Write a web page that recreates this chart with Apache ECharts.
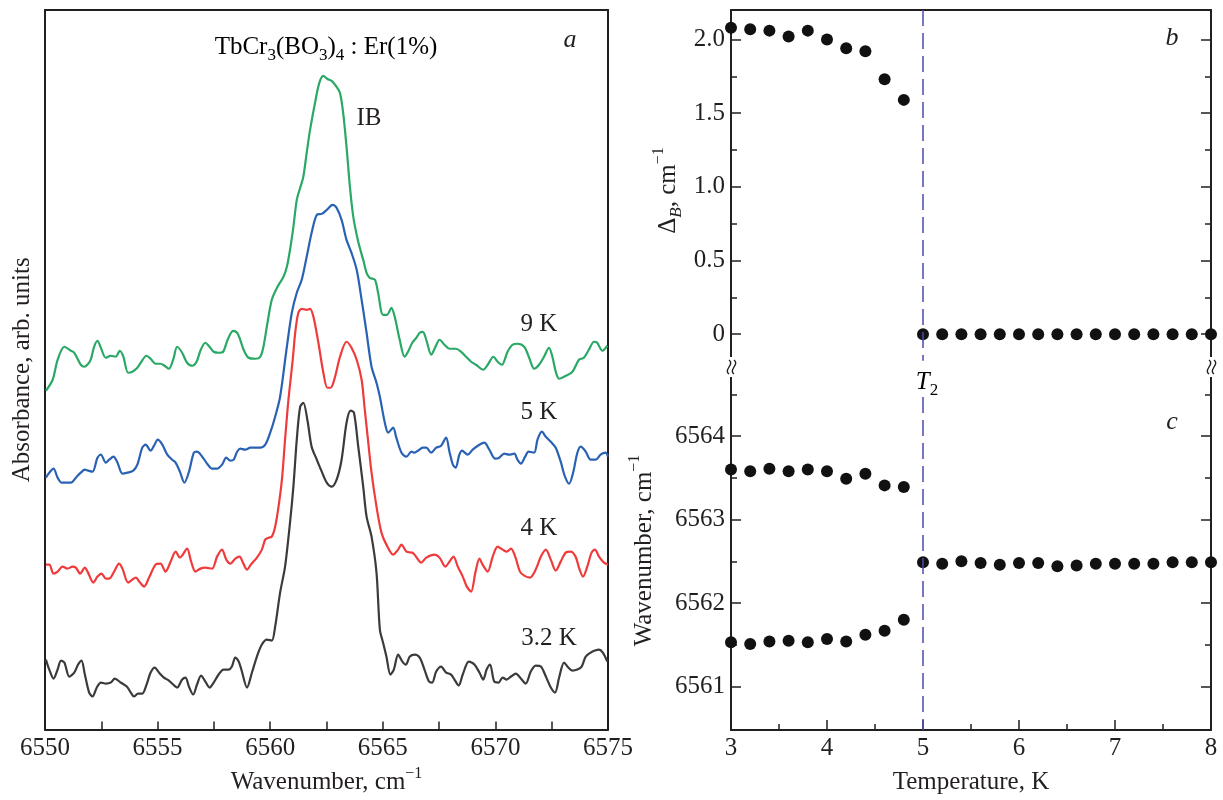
<!DOCTYPE html>
<html><head><meta charset="utf-8">
<script src="https://cdn.jsdelivr.net/npm/echarts@6/dist/echarts.min.js"></script>
<style>html,body{margin:0;padding:0;background:#fff}#c{width:1223px;height:800px}</style>
</head><body><div id="c"></div>
<script>
// ---------- Panel a: absorption spectra (wavenumber, arb. units) ----------
const wn9K = [6550.04,6550.34,6550.56,6550.86,6551.15,6551.30,6551.59,6551.74,6552.01,6552.18,6552.33,6552.48,6552.70,6552.92,6553.14,6553.32,6553.48,6553.69,6553.88,6554.10,6554.25,6554.51,6554.69,6554.91,6555.13,6555.31,6555.50,6555.69,6555.87,6556.09,6556.31,6556.54,6556.73,6556.90,6557.12,6557.27,6557.49,6557.71,6557.91,6558.11,6558.35,6558.53,6558.67,6558.82,6559.04,6559.34,6559.56,6559.70,6559.85,6560.07,6560.30,6560.59,6560.74,6560.88,6561.03,6561.18,6561.33,6561.47,6561.62,6561.77,6561.99,6562.18,6562.36,6562.54,6562.73,6562.95,6563.10,6563.24,6563.39,6563.54,6563.69,6563.91,6564.13,6564.28,6564.42,6564.65,6564.79,6565.01,6565.19,6565.38,6565.53,6565.75,6565.97,6566.12,6566.31,6566.49,6566.64,6566.78,6566.93,6567.15,6567.34,6567.52,6567.74,6567.96,6568.25,6568.48,6568.70,6568.92,6569.14,6569.46,6569.66,6569.91,6570.10,6570.29,6570.54,6570.76,6570.98,6571.28,6571.50,6571.72,6571.94,6572.16,6572.38,6572.53,6572.68,6572.83,6573.05,6573.42,6573.71,6573.93,6574.15,6574.38,6574.52,6574.75,6574.97];
const abs9K = [3.39,3.50,3.70,3.83,3.79,3.77,3.65,3.63,3.69,3.83,3.89,3.82,3.72,3.74,3.73,3.79,3.73,3.57,3.58,3.62,3.67,3.74,3.71,3.66,3.66,3.64,3.61,3.70,3.83,3.77,3.67,3.64,3.68,3.79,3.87,3.84,3.78,3.77,3.78,3.90,3.99,3.97,3.90,3.80,3.72,3.71,3.73,3.83,4.03,4.30,4.42,4.53,4.63,4.80,5.03,5.30,5.42,5.53,5.77,6.00,6.27,6.47,6.54,6.51,6.49,6.43,6.37,6.17,5.83,5.43,5.13,4.88,4.70,4.57,4.52,4.50,4.37,4.15,4.15,4.22,4.13,3.90,3.73,3.78,3.87,3.92,3.97,3.98,3.90,3.75,3.83,3.90,3.85,3.81,3.81,3.78,3.73,3.68,3.65,3.60,3.65,3.73,3.68,3.65,3.78,3.85,3.86,3.83,3.72,3.61,3.65,3.73,3.82,3.73,3.58,3.51,3.53,3.58,3.70,3.72,3.80,3.88,3.87,3.79,3.84];

const wn5K = [6550.04,6550.19,6550.38,6550.56,6550.74,6550.93,6551.15,6551.37,6551.59,6551.77,6551.92,6552.11,6552.33,6552.48,6552.70,6552.85,6553.04,6553.22,6553.44,6553.66,6553.92,6554.10,6554.32,6554.47,6554.69,6554.84,6555.01,6555.21,6555.43,6555.65,6555.80,6555.99,6556.19,6556.38,6556.61,6556.75,6556.98,6557.20,6557.42,6557.64,6557.86,6558.05,6558.23,6558.38,6558.53,6558.67,6558.89,6559.12,6559.34,6559.56,6559.78,6560.00,6560.22,6560.44,6560.74,6560.96,6561.18,6561.40,6561.62,6561.84,6562.07,6562.29,6562.51,6562.77,6562.95,6563.17,6563.39,6563.61,6563.84,6564.06,6564.28,6564.50,6564.72,6564.87,6565.09,6565.24,6565.46,6565.60,6565.83,6566.05,6566.27,6566.41,6566.56,6566.78,6566.93,6567.15,6567.37,6567.59,6567.81,6567.96,6568.11,6568.23,6568.40,6568.52,6568.77,6568.99,6569.29,6569.51,6569.73,6569.99,6570.17,6570.39,6570.61,6570.84,6570.98,6571.13,6571.32,6571.47,6571.72,6571.87,6572.06,6572.24,6572.50,6572.68,6572.90,6573.09,6573.27,6573.45,6573.64,6573.79,6574.01,6574.23,6574.45,6574.67,6574.89,6575.00];
const abs5K = [2.52,2.57,2.61,2.52,2.47,2.47,2.47,2.52,2.57,2.60,2.59,2.58,2.72,2.75,2.67,2.70,2.73,2.67,2.56,2.57,2.59,2.65,2.82,2.85,2.79,2.84,2.90,2.85,2.75,2.70,2.67,2.58,2.47,2.57,2.77,2.78,2.73,2.66,2.61,2.61,2.65,2.72,2.69,2.70,2.78,2.81,2.80,2.82,2.82,2.82,2.85,2.97,3.13,3.33,3.83,4.17,4.37,4.50,4.73,4.97,5.15,5.16,5.20,5.25,5.22,5.10,4.90,4.77,4.60,4.30,3.97,3.63,3.47,3.33,3.07,2.97,3.02,2.92,2.77,2.73,2.78,2.77,2.79,2.82,2.82,2.77,2.82,2.84,2.92,2.78,2.65,2.62,2.75,2.79,2.75,2.80,2.85,2.87,2.80,2.71,2.72,2.76,2.75,2.76,2.70,2.66,2.73,2.78,2.77,2.90,2.98,2.93,2.87,2.82,2.68,2.53,2.46,2.57,2.77,2.83,2.78,2.70,2.70,2.75,2.77,2.73];

const wn4K = [6550.04,6550.19,6550.38,6550.56,6550.78,6551.00,6551.22,6551.37,6551.56,6551.77,6551.89,6552.15,6552.33,6552.51,6552.70,6552.85,6553.07,6553.29,6553.44,6553.69,6553.88,6554.03,6554.22,6554.40,6554.62,6554.91,6555.13,6555.35,6555.58,6555.80,6555.99,6556.09,6556.31,6556.49,6556.68,6556.90,6557.12,6557.42,6557.64,6557.86,6558.05,6558.23,6558.45,6558.64,6558.79,6558.97,6559.14,6559.41,6559.63,6559.78,6559.93,6560.07,6560.22,6560.37,6560.52,6560.66,6560.81,6561.00,6561.11,6561.25,6561.40,6561.62,6561.77,6561.92,6562.14,6562.36,6562.54,6562.68,6562.88,6563.10,6563.39,6563.61,6563.84,6564.06,6564.20,6564.35,6564.50,6564.72,6564.94,6565.16,6565.46,6565.68,6565.83,6566.05,6566.31,6566.41,6566.71,6566.93,6567.30,6567.52,6567.78,6567.96,6568.14,6568.33,6568.55,6568.73,6568.92,6569.11,6569.29,6569.43,6569.66,6569.88,6570.10,6570.32,6570.50,6570.69,6570.88,6571.09,6571.28,6571.53,6571.79,6572.02,6572.24,6572.46,6572.68,6572.90,6573.12,6573.34,6573.56,6573.71,6573.89,6574.08,6574.27,6574.42,6574.60,6574.82,6575.00];
const abs4K = [1.65,1.65,1.56,1.58,1.63,1.61,1.63,1.62,1.56,1.62,1.58,1.47,1.53,1.56,1.51,1.51,1.58,1.66,1.61,1.47,1.50,1.52,1.47,1.43,1.52,1.65,1.66,1.58,1.68,1.78,1.72,1.74,1.81,1.68,1.58,1.61,1.62,1.61,1.73,1.80,1.70,1.66,1.71,1.73,1.67,1.60,1.65,1.72,1.80,1.90,1.92,1.93,2.03,2.23,2.50,2.90,3.30,3.70,3.97,4.17,4.21,4.20,4.21,4.13,3.87,3.57,3.42,3.42,3.53,3.73,3.88,3.82,3.70,3.50,3.20,2.88,2.57,2.23,1.97,1.85,1.75,1.80,1.85,1.78,1.77,1.75,1.67,1.72,1.75,1.72,1.63,1.68,1.73,1.63,1.53,1.43,1.38,1.57,1.71,1.65,1.58,1.73,1.83,1.80,1.78,1.81,1.73,1.58,1.54,1.52,1.60,1.73,1.80,1.70,1.59,1.68,1.77,1.78,1.73,1.62,1.53,1.63,1.77,1.80,1.73,1.67,1.65];

const wn3K = [6550.04,6550.19,6550.38,6550.56,6550.71,6550.86,6551.08,6551.30,6551.47,6551.62,6551.77,6551.96,6552.11,6552.30,6552.48,6552.70,6552.92,6553.10,6553.36,6553.63,6553.81,6553.95,6554.13,6554.32,6554.51,6554.69,6554.87,6555.06,6555.28,6555.50,6555.69,6555.87,6556.09,6556.24,6556.39,6556.58,6556.75,6556.93,6557.12,6557.31,6557.49,6557.71,6557.93,6558.16,6558.30,6558.45,6558.60,6558.72,6558.97,6559.19,6559.41,6559.63,6559.85,6560.07,6560.22,6560.44,6560.66,6560.88,6561.03,6561.18,6561.33,6561.47,6561.65,6561.84,6562.07,6562.29,6562.51,6562.73,6562.95,6563.17,6563.39,6563.57,6563.72,6563.91,6564.13,6564.28,6564.50,6564.72,6564.87,6565.01,6565.16,6565.34,6565.49,6565.68,6565.87,6566.02,6566.20,6566.42,6566.64,6566.85,6567.05,6567.19,6567.37,6567.59,6567.81,6568.03,6568.18,6568.37,6568.55,6568.82,6569.07,6569.29,6569.46,6569.61,6569.76,6569.95,6570.14,6570.32,6570.50,6570.69,6570.91,6571.13,6571.35,6571.57,6571.79,6572.02,6572.24,6572.46,6572.65,6572.83,6573.05,6573.24,6573.42,6573.64,6573.83,6574.01,6574.23,6574.42,6574.60,6574.77,6574.97];
const abs3K = [0.70,0.60,0.51,0.60,0.69,0.67,0.53,0.57,0.65,0.69,0.55,0.37,0.33,0.42,0.47,0.46,0.47,0.51,0.47,0.43,0.37,0.33,0.36,0.36,0.45,0.57,0.62,0.57,0.52,0.49,0.45,0.42,0.50,0.52,0.43,0.35,0.45,0.54,0.48,0.42,0.47,0.55,0.60,0.60,0.63,0.72,0.68,0.60,0.42,0.57,0.73,0.85,0.90,0.89,1.03,1.37,1.63,2.07,2.43,2.90,3.23,3.27,3.10,2.83,2.70,2.58,2.47,2.43,2.50,2.70,3.07,3.19,3.17,2.83,2.43,2.13,1.93,1.57,1.00,0.87,0.73,0.55,0.60,0.75,0.68,0.65,0.73,0.75,0.72,0.60,0.48,0.47,0.58,0.63,0.57,0.55,0.50,0.44,0.55,0.68,0.65,0.57,0.50,0.60,0.65,0.48,0.47,0.52,0.50,0.53,0.56,0.51,0.46,0.58,0.64,0.63,0.53,0.42,0.37,0.52,0.67,0.62,0.59,0.60,0.63,0.73,0.77,0.79,0.80,0.77,0.68];

const curveNames = ['9 K', '5 K', '4 K', '3.2 K'];
const wnTicksA = [6550, 6555, 6560, 6565, 6570, 6575];

// ---------- Panel b: splitting Delta_B vs temperature ----------
const tempB = [3.0,3.2,3.4,3.6,3.8,4.0,4.2,4.4,4.6,4.8,5.0,5.2,5.4,5.6,5.8,6.0,6.2,6.4,6.6,6.8,7.0,7.2,7.4,7.6,7.8,8.0];
const deltaB = [2.08,2.07,2.06,2.02,2.06,2.00,1.94,1.92,1.73,1.59,0,0,0,0,0,0,0,0,0,0,0,0,0,0,0,0];
const bTicks = [0, 0.5, 1.0, 1.5, 2.0];
const bMinorTicks = [0.25, 0.75, 1.25, 1.75];

// ---------- Panel c: line positions vs temperature ----------
const tempSplit = [3.0,3.2,3.4,3.6,3.8,4.0,4.2,4.4,4.6,4.8];
const wnUpper = [6563.60,6563.58,6563.61,6563.58,6563.60,6563.58,6563.49,6563.55,6563.41,6563.39];
const wnLower = [6561.53,6561.51,6561.54,6561.55,6561.53,6561.57,6561.54,6561.62,6561.67,6561.80];
const tempMerged = [5.0,5.2,5.4,5.6,5.8,6.0,6.2,6.4,6.6,6.8,7.0,7.2,7.4,7.6,7.8,8.0];
const wnMerged = [6562.49,6562.47,6562.50,6562.48,6562.46,6562.48,6562.48,6562.44,6562.45,6562.47,6562.47,6562.47,6562.47,6562.49,6562.49,6562.49];
const cTicks = [6561, 6562, 6563, 6564];
const cMinorTicks = [6561.5, 6562.5, 6563.5, 6564.5];
const tempTicks = [3, 4, 5, 6, 7, 8];

const T2 = 5;
const T2LineB = [2.2, -0.18];
const T2LineC = [6564.47, 6560.48];

// ---------- styling ----------
const FONT = 'Liberation Serif';
const INK = '#231f20';
const FS = 25;
const colors = ['#2aa866', '#2a62b3', '#ef3b3b', '#3b3b3b'];
const zip = (xs, ys) => xs.map((x, i) => [x, ys[i]]);
const lineOnly = { show: true, onZero: false, lineStyle: { color: INK, width: 2 } };
const noLine = { show: false };
const labelStyle = { fontFamily: FONT, fontSize: FS, color: INK };
const rich = {
  n: { fontFamily: FONT, fontSize: FS, color: INK, lineHeight: 34 },
  i: { fontFamily: FONT, fontSize: FS, color: INK, lineHeight: 34, fontStyle: 'italic' },
  sub: { fontFamily: FONT, fontSize: 17, color: INK, lineHeight: 22, verticalAlign: 'bottom' },
  subi: { fontFamily: FONT, fontSize: 17, color: INK, lineHeight: 22, verticalAlign: 'bottom', fontStyle: 'italic' },
  sup: { fontFamily: FONT, fontSize: 16, color: INK, lineHeight: 18, verticalAlign: 'top' }
};
const fmt = v => (v === 0 ? '0' : (v > 100 ? String(v) : v.toFixed(1)));

function plainAxis(gridIndex, position, min, max) {
  return { type: 'value', gridIndex, position, min, max, axisLine: lineOnly,
    axisTick: { show: false }, axisLabel: { show: false }, splitLine: { show: false } };
}
function customTickAxis(gridIndex, position, min, max, ticks, len, showLine, showLabel, extra) {
  const ax = { type: 'value', gridIndex, position, min, max,
    axisLine: showLine ? lineOnly : noLine,
    axisTick: { show: true, inside: true, length: len, customValues: ticks, lineStyle: { color: INK, width: 1.5 } },
    axisLabel: showLabel ? Object.assign({ show: true, customValues: ticks, margin: 6, formatter: fmt }, labelStyle) : { show: false },
    splitLine: { show: false } };
  return Object.assign(ax, extra || {});
}

const chart = echarts.init(document.getElementById('c'), null, { renderer: 'canvas', width: 1223, height: 800 });

const spectra = [[wn9K, abs9K], [wn5K, abs5K], [wn4K, abs4K], [wn3K, abs3K]].map((c, k) => ({
  type: 'line', name: curveNames[k], xAxisIndex: 0, yAxisIndex: 0, data: zip(c[0], c[1]),
  showSymbol: false, smooth: 0.3, lineStyle: { color: colors[k], width: 2.2 }, silent: true, z: 3 + k
}));

const dash = { color: '#4b4bab', width: 1.5, type: [16, 7] };
const dotStyle = { color: '#111', opacity: 1 };

const option = {
  animation: false,
  backgroundColor: '#fff',
  grid: [
    { left: 45, top: 10, width: 563, height: 720 },
    { left: 731, top: 10, width: 480, height: 361 },
    { left: 731, top: 371, width: 480, height: 359 }
  ],
  xAxis: [
    { type: 'value', gridIndex: 0, position: 'bottom', min: 6550, max: 6575, interval: 5,
      axisLine: lineOnly,
      axisTick: { show: true, inside: true, length: 8, lineStyle: { color: INK, width: 1.5 } },
      minorTick: { show: true, splitNumber: 2, length: 8, lineStyle: { color: INK, width: 1.5 } },
      axisLabel: Object.assign({ margin: 6, customValues: wnTicksA, formatter: v => String(v) }, labelStyle),
      splitLine: { show: false },
      name: '{n|Wavenumber, cm}{sup|−1}', nameLocation: 'middle', nameGap: 36,
      nameTextStyle: { rich } },
    plainAxis(0, 'top', 6550, 6575),
    plainAxis(1, 'top', 3, 8),
    { type: 'value', gridIndex: 2, position: 'bottom', min: 3, max: 8, interval: 1,
      axisLine: lineOnly,
      axisTick: { show: true, inside: true, length: 10, lineStyle: { color: INK, width: 1.5 } },
      minorTick: { show: true, splitNumber: 2, length: 6, lineStyle: { color: INK, width: 1.5 } },
      axisLabel: Object.assign({ margin: 6, customValues: tempTicks, formatter: v => String(v) }, labelStyle),
      splitLine: { show: false },
      name: 'Temperature, K', nameLocation: 'middle', nameGap: 40,
      nameTextStyle: labelStyle }
  ],
  yAxis: [
    Object.assign(plainAxis(0, 'left', 0, 7.2), { name: 'Absorbance, arb. units', nameLocation: 'middle',
      nameRotate: 90, nameGap: 10, nameTextStyle: labelStyle }),
    plainAxis(0, 'right', 0, 7.2),
    customTickAxis(1, 'left', -0.25, 2.2, bTicks, 10, true, true, {
      name: '{n|Δ}{subi|B}{n|, cm}{sup|−1}', nameLocation: 'middle', nameRotate: 90, nameGap: 46,
      nameTextStyle: { rich } }),
    customTickAxis(1, 'left', -0.25, 2.2, bMinorTicks, 6, false, false),
    customTickAxis(1, 'right', -0.25, 2.2, bTicks, 10, true, false),
    customTickAxis(1, 'right', -0.25, 2.2, bMinorTicks, 6, false, false),
    customTickAxis(2, 'left', 6560.48, 6564.78, cTicks, 10, true, true, {
      name: '{n|Wavenumber, cm}{sup|−1}', nameLocation: 'middle', nameRotate: 90, nameGap: 70,
      nameTextStyle: { rich } }),
    customTickAxis(2, 'left', 6560.48, 6564.78, cMinorTicks, 6, false, false),
    customTickAxis(2, 'right', 6560.48, 6564.78, cTicks, 10, true, false),
    customTickAxis(2, 'right', 6560.48, 6564.78, cMinorTicks, 6, false, false)
  ],
  series: spectra.concat([
    { type: 'scatter', name: 'ΔB', xAxisIndex: 2, yAxisIndex: 2, data: zip(tempB, deltaB),
      symbolSize: 12, itemStyle: dotStyle, clip: true, silent: true,
      markLine: { silent: true, symbol: ['none', 'none'], label: { show: false }, lineStyle: dash,
        data: [[{ coord: [T2, T2LineB[0]] }, { coord: [T2, T2LineB[1]] }]] } },
    { type: 'scatter', name: 'upper', xAxisIndex: 3, yAxisIndex: 6, data: zip(tempSplit, wnUpper),
      symbolSize: 12, itemStyle: dotStyle, clip: true, silent: true,
      markLine: { silent: true, symbol: ['none', 'none'], label: { show: false }, lineStyle: dash,
        data: [[{ coord: [T2, T2LineC[0]] }, { coord: [T2, T2LineC[1]] }]] } },
    { type: 'scatter', name: 'lower', xAxisIndex: 3, yAxisIndex: 6, data: zip(tempSplit, wnLower),
      symbolSize: 12, itemStyle: dotStyle, clip: true, silent: true },
    { type: 'scatter', name: 'merged', xAxisIndex: 3, yAxisIndex: 6, data: zip(tempMerged, wnMerged),
      symbolSize: 12, itemStyle: dotStyle, clip: true, silent: true }
  ]),
  graphic: [
    // axis break cut-outs
    { type: 'rect', shape: { x: 724, y: 357, width: 14, height: 20 }, style: { fill: '#fff' }, z: 100 },
    { type: 'rect', shape: { x: 1204, y: 357, width: 14, height: 20 }, style: { fill: '#fff' }, z: 100 },
    { type: 'bezierCurve', shape: { x1: 729, y1: 360, x2: 729, y2: 374, cpx1: 735, cpy1: 364, cpx2: 723, cpy2: 370 }, style: { stroke: INK, lineWidth: 1.4, fill: null }, z: 101 },
    { type: 'bezierCurve', shape: { x1: 734, y1: 360, x2: 734, y2: 374, cpx1: 740, cpy1: 364, cpx2: 728, cpy2: 370 }, style: { stroke: INK, lineWidth: 1.4, fill: null }, z: 101 },
    { type: 'bezierCurve', shape: { x1: 1209, y1: 360, x2: 1209, y2: 374, cpx1: 1215, cpy1: 364, cpx2: 1203, cpy2: 370 }, style: { stroke: INK, lineWidth: 1.4, fill: null }, z: 101 },
    { type: 'bezierCurve', shape: { x1: 1214, y1: 360, x2: 1214, y2: 374, cpx1: 1220, cpy1: 364, cpx2: 1208, cpy2: 370 }, style: { stroke: INK, lineWidth: 1.4, fill: null }, z: 101 },
    // annotations
    { type: 'text', x: 326, y: 47, style: { text: '{n|TbCr}{sub|3}{n|(BO}{sub|3}{n|)}{sub|4}{n| : Er(1%)}', rich, align: 'center', verticalAlign: 'middle' }, z: 100 },
    { type: 'text', x: 570, y: 40, style: { text: 'a', font: 'italic 26px "Liberation Serif"', fill: INK, align: 'center', verticalAlign: 'middle' }, z: 100 },
    { type: 'text', x: 369, y: 118, style: { text: 'IB', font: '25px "Liberation Serif"', fill: INK, align: 'center', verticalAlign: 'middle' }, z: 100 },
    { type: 'text', x: 539, y: 324, style: { text: curveNames[0], font: '25px "Liberation Serif"', fill: INK, align: 'center', verticalAlign: 'middle' }, z: 100 },
    { type: 'text', x: 539, y: 412, style: { text: curveNames[1], font: '25px "Liberation Serif"', fill: INK, align: 'center', verticalAlign: 'middle' }, z: 100 },
    { type: 'text', x: 539, y: 528, style: { text: curveNames[2], font: '25px "Liberation Serif"', fill: INK, align: 'center', verticalAlign: 'middle' }, z: 100 },
    { type: 'text', x: 549, y: 638, style: { text: curveNames[3], font: '25px "Liberation Serif"', fill: INK, align: 'center', verticalAlign: 'middle' }, z: 100 },
    { type: 'text', x: 1172, y: 38, style: { text: 'b', font: 'italic 26px "Liberation Serif"', fill: INK, align: 'center', verticalAlign: 'middle' }, z: 100 },
    { type: 'text', x: 1172, y: 422, style: { text: 'c', font: 'italic 26px "Liberation Serif"', fill: INK, align: 'center', verticalAlign: 'middle' }, z: 100 },
    { type: 'text', x: 927, y: 382, style: { text: '{i|T}{sub|2}', rich, align: 'center', verticalAlign: 'middle' }, z: 100 }
  ]
};
chart.setOption(option);
</script>
</body></html>
